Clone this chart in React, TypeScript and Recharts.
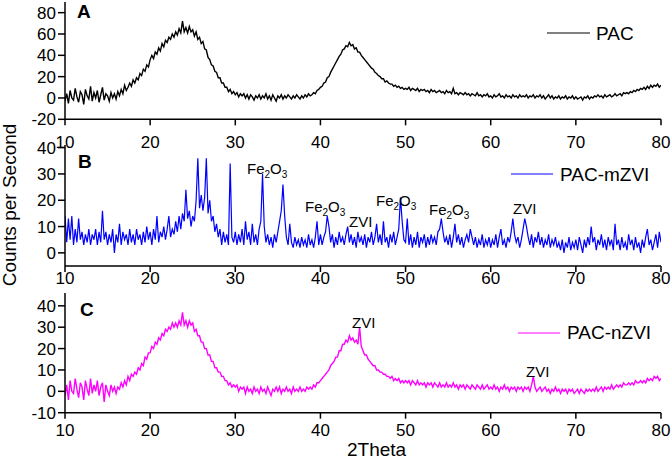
import { LineChart, Line, XAxis, YAxis } from "recharts";

// 2Theta grid, 10..80 every 0.2 deg
const twoTheta = Array.from({ length: 351 }, (_, i) => Math.round(100 + i * 2) / 10);
const xTicks = [10, 20, 30, 40, 50, 60, 70, 80];

// PAC (panel A)
const pac = [
  -3, 4, -5, 7, 0, -2, 9, 1, -4, 6, 3, -6, 8, 2, -1, 11, -3, 5, 0, 7, -4, 3, 10, -2, 4,
  2, -3, 5, 0, 4, -1, 6, 2, 8, 4, 12, 7, 10, 14, 11, 17, 14, 19, 17, 23, 21, 27, 25, 31, 29,
  36, 40, 37, 43, 41, 47, 44, 51, 48, 54, 52, 57, 55, 60, 57, 62, 59, 65, 61, 72, 62, 66, 61, 67, 62,
  64, 58, 62, 55, 57, 51, 53, 46, 45, 38, 36, 31, 30, 25, 24, 19, 19, 14, 14, 10, 10, 6, 8, 4, 6,
  3, 5, 1, 4, 2, 4, 0, 3, -1, 3, 1, -2, 2, 0, 3, -1, 2, 0, 4, -1, 2, -2, 3, 0, -3,
  2, 0, 3, -1, 2, 0, 3, 1, -1, 2, 0, 3, 1, -1, 2, 0, 3, 1, 4, 2, 3, 5, 4, 7, 8,
  10, 11, 14, 15, 19, 20, 24, 27, 30, 33, 36, 39, 41, 45, 46, 49, 48, 52, 49, 50, 46, 47, 43, 43, 40,
  38, 36, 34, 32, 30, 28, 27, 24, 23, 21, 20, 18, 18, 15, 16, 14, 13, 13, 11, 12, 10, 11, 9, 10, 8,
  9, 8, 10, 7, 9, 8, 7, 9, 6, 8, 7, 8, 6, 7, 5, 8, 6, 7, 5, 6, 7, 5, 6, 4, 7,
  5, 6, 4, 9, 4, 5, 3, 5, 4, 3, 5, 3, 4, 2, 4, 3, 2, 5, 2, 3, 1, 3, 2, 4, 1,
  2, 0, 3, 1, 2, 4, 1, 2, 0, 3, 1, 2, 0, 3, 1, 2, 0, 3, 1, 2, 1, 3, 0, 2, 1,
  3, 0, 2, 1, 3, 0, 2, -1, 1, 3, 0, 2, -1, 1, 0, 2, -1, 1, 0, 2, -1, 1, 0, 2, -1,
  1, -1, 0, 1, -2, 1, 0, 2, -1, 1, 0, 2, 1, 3, 1, 2, 0, 3, 1, 2, 3, 1, 2, 4, 2,
  3, 4, 2, 5, 4, 5, 4, 6, 5, 7, 6, 8, 7, 9, 8, 10, 8, 11, 9, 12, 10, 12, 11, 13, 10,
  12,
];

// PAC-mZVI (panel B)
const pacMZVI = [
  14, 4, 13, 5, 14, 3, 9, 4, 13, 5, 8, 3, 7, 4, 9, 3, 7, 5, 9, 3, 8, 4, 16, 5, 8,
  3, 7, 4, 9, 0, 7, 4, 11, 3, 8, 5, 7, 3, 9, 4, 7, 3, 9, 5, 7, 3, 8, 4, 10, 5,
  8, 3, 9, 5, 14, 4, 8, 6, 10, 5, 9, 14, 6, 9, 7, 12, 8, 14, 9, 15, 12, 24, 13, 16, 10,
  14, 12, 20, 36, 17, 22, 16, 21, 36, 15, 20, 12, 14, 8, 11, 6, 9, 3, 8, 4, 7, 3, 34, 6, 4,
  8, 3, 7, 4, 9, 3, 12, 5, 8, 3, 11, 4, 7, 3, 9, 12, 30, 10, 4, 7, 3, 6, 2, 7, 4,
  8, 12, 16, 26, 14, 6, 3, 11, 4, 2, 6, 3, 5, 2, 6, 3, 5, 2, 7, 3, 5, 2, 6, 12, 3,
  7, 3, 6, 8, 14, 10, 4, 7, 2, 6, 3, 8, 4, 6, 3, 7, 10, 4, 7, 3, 6, 2, 8, 4, 6,
  3, 7, 2, 6, 4, 8, 3, 6, 11, 4, 7, 3, 12, 4, 6, 2, 7, 4, 8, 3, 6, 9, 21, 12, 5,
  4, 13, 3, 7, 2, 6, 3, 8, 2, 6, 4, 7, 2, 6, 3, 7, 4, 6, 3, 8, 9, 13, 8, 4, 6,
  3, 7, 2, 6, 11, 4, 7, 3, 6, 2, 5, 7, 4, 9, 6, 3, 6, 2, 5, 3, 7, 2, 5, 3, 6,
  2, 5, 3, 7, 2, 6, 9, 3, 5, 2, 6, 4, 8, 13, 7, 4, 6, 2, 5, 9, 13, 10, 6, 3, 7,
  2, 6, 4, 8, 3, 6, 2, 5, 3, 7, 2, 5, 3, 6, 2, 4, 1, 5, 0, 4, 2, 6, 1, 4, 2,
  5, 1, 6, 3, 0, 5, 2, 6, 3, 10, 4, 6, 1, 5, 3, 7, 2, 5, 1, 6, 3, 5, 1, 11, 3,
  5, 1, 6, 2, 4, 1, 7, 3, 5, 1, 6, 2, 4, 0, 5, 2, 6, 9, 3, 5, 1, 4, 7, 2, 8,
  4,
];

// PAC-nZVI (panel C)
const pacNZVI = [
  -2, 3, -4, 5, 0, -1, 6, 1, -3, 4, 2, -4, 5, 1, -2, 6, -1, 3, 0, 5, -2, 2, 4, -5, 3,
  0, -2, 3, 0, 2, -1, 2, 1, 4, 2, 5, 3, 7, 5, 8, 7, 9, 8, 11, 10, 13, 12, 16, 15, 18,
  18, 21, 20, 23, 22, 25, 24, 27, 26, 29, 28, 30, 29, 32, 30, 32, 30, 33, 31, 37, 31, 33, 30, 33, 31,
  32, 28, 29, 26, 26, 23, 23, 20, 20, 17, 17, 14, 14, 11, 11, 9, 9, 7, 7, 5, 5, 3, 4, 2, 3,
  2, 3, 0, 2, 1, 2, -1, 2, 0, 1, -1, 2, 0, 1, -1, 2, 0, 1, -1, 2, 0, -2, 1, 0, 2,
  0, 2, -1, 1, 0, 2, 0, 1, -1, 2, 0, 1, 0, 2, 0, 1, 0, 2, 1, 2, 1, 3, 2, 4, 4,
  5, 6, 7, 8, 9, 10, 12, 13, 14, 16, 16, 19, 19, 22, 22, 24, 23, 26, 24, 25, 23, 24, 22, 30, 21,
  19, 17, 17, 15, 14, 13, 12, 12, 10, 10, 9, 9, 8, 8, 7, 7, 6, 7, 5, 6, 5, 6, 4, 5, 4,
  5, 4, 5, 3, 5, 4, 3, 5, 3, 4, 3, 4, 2, 4, 3, 4, 2, 4, 3, 2, 4, 2, 3, 2, 4,
  2, 3, 2, 4, 2, 3, 1, 3, 2, 3, 1, 3, 2, 1, 3, 2, 1, 3, 2, 1, 3, 1, 2, 3, 1,
  2, 1, 3, 1, 2, 0, 2, 1, 3, 1, 2, 0, 2, 1, 2, 0, 2, 1, 2, 0, 2, 1, 2, 0, 3,
  7, 2, 0, 1, 2, 0, 1, 2, 0, 1, -1, 1, 0, 2, 0, 1, -1, 1, 0, 1, -1, 1, 0, 1, -1,
  0, 1, -1, 1, 0, -1, 1, 0, 1, 0, 1, 0, 2, 0, 1, 2, 0, 2, 1, 2, 1, 3, 1, 2, 3,
  2, 3, 2, 4, 3, 3, 4, 3, 4, 3, 5, 4, 4, 5, 4, 5, 4, 6, 5, 6, 5, 7, 6, 7, 5,
  6,
];

const font = "'Liberation Sans', Arial, sans-serif";

function Panel({ values, color, width, top, height, marginTop, axisHeight, domain, yTicks, tickMargin }) {
  const data = twoTheta.map((x, i) => ({ x, y: values[i] }));
  const axisStyle = { stroke: "#000", strokeWidth: 1.5 };
  const tickStyle = { fill: "#000", fontSize: 17, fontFamily: font };
  return (
    <div style={{ position: "absolute", left: 0, top, width: 671, height }}>
      <LineChart
        width={671}
        height={height}
        data={data}
        margin={{ top: marginTop, right: 10, bottom: 0, left: 0 }}
      >
        <XAxis
          dataKey="x"
          type="number"
          domain={[10, 80]}
          ticks={xTicks}
          interval={0}
          allowDataOverflow
          height={axisHeight}
          tickSize={6}
          tickMargin={tickMargin}
          axisLine={axisStyle}
          tickLine={axisStyle}
          tick={tickStyle}
        />
        <YAxis
          type="number"
          domain={domain}
          ticks={yTicks}
          interval={0}
          allowDataOverflow
          width={65}
          tickSize={7}
          tickMargin={2}
          axisLine={axisStyle}
          tickLine={axisStyle}
          tick={tickStyle}
        />
        <Line
          dataKey="y"
          stroke={color}
          strokeWidth={width}
          strokeLinejoin="miter"
          dot={false}
          activeDot={false}
          isAnimationActive={false}
        />
      </LineChart>
    </div>
  );
}

function FeO({ x, y }) {
  return (
    <text x={x} y={y} fontSize={15} fontFamily={font} fill="#000">
      Fe
      <tspan fontSize={10} dy={4}>2</tspan>
      <tspan fontSize={15} dy={-4}>O</tspan>
      <tspan fontSize={10} dy={4}>3</tspan>
    </text>
  );
}

export default function App() {
  return (
    <div style={{ position: "absolute", left: 0, top: 0, width: 671, height: 460, background: "#fff" }}>
      <Panel values={pac} color="#000000" width={1.4} top={0} height={160} marginTop={2} axisHeight={40.7}
        domain={[-20, 90]} yTicks={[-20, 0, 20, 40, 60, 80]} tickMargin={11} />
      <Panel values={pacMZVI} color="#0000ff" width={1.2} top={140} height={160} marginTop={5} axisHeight={34}
        domain={[-5, 41]} yTicks={[0, 10, 20, 30, 40]} tickMargin={0} />
      <Panel values={pacNZVI} color="#ff00ff" width={1.4} top={290} height={170} marginTop={3} axisHeight={47.3}
        domain={[-10, 46]} yTicks={[-10, 0, 10, 20, 30, 40]} tickMargin={5} />

      <svg width={671} height={460} style={{ position: "absolute", left: 0, top: 0, pointerEvents: "none" }}>
        <g fontFamily={font} fill="#000">
          <text x={77} y={18} fontSize={19} fontWeight="bold">A</text>
          <text x={78} y={168} fontSize={19} fontWeight="bold">B</text>
          <text x={80} y={316} fontSize={19} fontWeight="bold">C</text>

          <line x1={547} x2={590} y1={33} y2={33} stroke="#000" strokeWidth={1} />
          <text x={596} y={40} fontSize={19}>PAC</text>
          <line x1={511} x2={553} y1={174} y2={174} stroke="#0000ff" strokeWidth={1} />
          <text x={560} y={180.5} fontSize={19}>PAC-mZVI</text>
          <line x1={518} x2={560} y1={333} y2={333} stroke="#ff00ff" strokeWidth={1} />
          <text x={567} y={339} fontSize={19}>PAC-nZVI</text>

          <text x={16} y={205} fontSize={19} textAnchor="middle" transform="rotate(-90 16 205)">
            Counts per Second
          </text>
          <text x={347} y={456} fontSize={19}>2Theta</text>

          <text x={349} y={226.5} fontSize={15}>ZVI</text>
          <text x={513} y={213.5} fontSize={15}>ZVI</text>
          <text x={352} y={327.5} fontSize={15}>ZVI</text>
          <text x={526} y={376.5} fontSize={15}>ZVI</text>
        </g>
        <FeO x={247} y={173.5} />
        <FeO x={305} y={211.5} />
        <FeO x={376} y={205.5} />
        <FeO x={429} y={215} />
      </svg>
    </div>
  );
}
